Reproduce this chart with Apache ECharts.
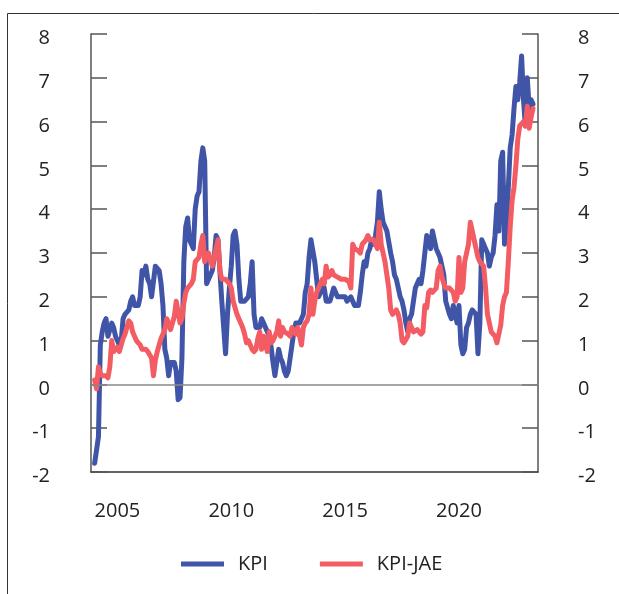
<!DOCTYPE html>
<html><head><meta charset="utf-8">
<script src="https://cdn.jsdelivr.net/npm/echarts@6/dist/echarts.min.js"></script>
<style>html,body{margin:0;padding:0;background:#fff}#c{width:619px;height:594px}</style>
</head><body><div id="c"></div>
<script>
// Monthly 12-month growth, Jan 2004 - Apr 2023
const startYear = 2004;
const kpi = [
  -1.8,-1.8,-1.2,0.9,1.2,1.4,1.5,1.1,1.1,1.4,1.3,1.1,
  1.0,0.9,1.0,1.5,1.6,1.6,1.7,1.9,2.0,1.8,1.8,1.8,
  2.0,2.6,2.5,2.7,2.4,2.3,2.0,2.0,2.7,2.7,2.6,2.3,
  1.8,0.8,0.6,0.2,0.5,0.5,0.5,0.3,-0.35,-0.3,0.6,2.8,
  3.6,3.8,3.3,3.2,3.1,4.0,4.3,4.4,5.1,5.4,5.1,2.3,
  2.4,2.5,2.6,2.9,3.4,3.3,2.6,1.9,1.3,0.7,1.6,2.2,
  2.7,3.4,3.5,3.2,2.4,1.9,1.9,1.9,1.9,2.0,2.3,2.8,
  1.6,1.3,1.3,1.3,1.5,1.4,1.4,1.2,1.1,0.85,0.5,0.2,
  0.5,0.8,0.6,0.5,0.3,0.2,0.3,0.6,0.9,1.2,1.4,1.4,
  1.4,1.5,1.6,2.1,2.3,2.9,3.3,3.3,2.8,2.4,2.0,2.1,
  2.3,2.2,1.9,1.9,1.9,1.9,2.2,2.1,2.0,2.0,2.0,2.0,
  2.0,1.9,1.9,2.0,1.9,1.8,1.8,1.8,2.1,2.5,2.8,2.7,
  3.0,3.1,3.3,3.2,3.4,3.7,4.4,4.0,3.7,3.7,3.5,3.5,
  3.0,2.8,2.5,2.4,2.2,2.0,1.9,1.7,1.4,1.2,1.5,1.6,
  1.6,2.2,2.2,2.4,2.3,2.6,3.0,3.4,3.3,3.1,3.5,3.5,
  3.1,3.0,2.9,2.9,2.5,1.9,1.9,1.6,1.5,1.8,1.6,1.4,
  1.8,0.9,0.7,0.8,1.3,1.4,1.6,1.7,1.7,1.6,0.7,1.4,
  3.3,3.3,3.1,3.0,2.7,2.9,3.0,3.4,4.1,3.5,5.1,5.3,
  3.2,3.7,4.5,5.4,5.7,6.3,6.8,6.5,6.9,7.5,6.5,5.9,
  7.0,6.3,6.5,6.4
];
const kpiJae = [
  0.1,-0.1,0.4,0.25,0.2,0.2,0.2,0.15,0.4,1.0,0.75,0.75,
  0.85,0.75,0.75,1.05,1.15,1.15,1.45,1.4,1.2,1.1,1.0,0.95,
  0.9,0.8,0.8,0.8,0.75,0.75,0.6,0.2,0.55,0.75,0.9,1.05,
  1.15,1.25,1.5,1.4,1.25,1.25,1.55,1.9,1.65,1.4,1.5,1.85,
  2.1,2.2,2.2,2.3,2.4,2.8,2.8,2.9,3.2,3.4,2.8,2.8,
  3.0,3.0,2.7,2.9,3.1,3.3,2.6,2.4,2.4,2.4,2.4,2.3,
  2.2,1.9,1.75,1.6,1.5,1.4,1.3,1.15,0.95,1.0,1.0,0.8,
  0.75,0.8,1.05,1.2,0.8,1.1,1.1,0.75,1.2,0.95,1.0,1.1,
  1.2,1.45,1.1,1.3,1.2,1.2,1.15,1.1,1.3,1.2,1.15,1.3,
  1.1,0.9,1.3,1.4,1.45,1.6,2.2,1.6,1.9,2.1,2.2,2.3,
  2.4,2.3,2.7,2.45,2.5,2.6,2.5,2.5,2.45,2.45,2.4,2.4,
  2.4,2.4,2.35,2.2,3.2,3.1,3.1,3.05,3.0,3.2,3.2,3.3,
  3.4,3.3,3.3,3.3,3.2,3.1,3.7,3.2,3.0,2.8,2.5,2.2,
  1.7,1.6,1.6,1.7,1.6,1.4,1.0,0.95,0.95,1.1,1.4,1.3,
  1.2,1.2,1.25,1.2,1.15,1.2,1.8,1.75,2.1,2.15,2.1,2.1,
  2.2,2.6,2.7,2.45,2.3,2.2,2.2,2.2,2.2,2.1,1.9,2.0,
  2.9,2.1,2.2,2.8,3.0,3.2,3.7,3.5,3.3,3.1,2.9,2.8,
  2.75,2.7,2.2,1.6,1.4,1.2,1.15,1.1,0.95,0.95,1.35,1.8,
  2.0,2.1,2.8,3.6,4.2,4.5,5.0,5.6,5.9,5.9,6.0,5.9,
  6.35,5.85,6.1,6.3
];
const xLabelYears = [2005, 2010, 2015, 2020];
const yMin = -2, yMax = 8, yStep = 1;
const seriesNames = ['KPI', 'KPI-JAE'];
const colors = ['#4055A8', '#F25C62'];

const FONT = '"Open Sans", "Noto Sans", sans-serif';
function toPairs(arr) { return arr.map((v, i) => [startYear + i / 12, v]); }

const chart = echarts.init(document.getElementById('c'), null, {renderer: 'canvas'});
const yAxisBase = (pos, margin) => ({
  type: 'value', position: pos, min: yMin, max: yMax, interval: yStep,
  axisLine: {show: true, lineStyle: {color: '#555', width: 1.5}},
  axisTick: {show: true, inside: true, length: 16, lineStyle: {color: '#555', width: 1.5}},
  axisLabel: {margin: margin, fontSize: 20, color: '#222', fontFamily: FONT,
    verticalAlign: 'top', lineHeight: 9, formatter: v => String(v)},
  splitLine: {show: false}
});
chart.setOption({
  animation: false,
  backgroundColor: '#fff',
  grid: {left: 91, right: 81, top: 34, bottom: 122, containLabel: false},
  graphic: [
    {type: 'line', shape: {x1: 7.5, y1: 13.5, x2: 619, y2: 13.5}, style: {stroke: '#333', lineWidth: 1}},
    {type: 'line', shape: {x1: 7.5, y1: 13.5, x2: 7.5, y2: 594}, style: {stroke: '#333', lineWidth: 1}}
  ],
  legend: {
    data: seriesNames, left: 176, top: 549, icon: 'rect', itemWidth: 43, itemHeight: 5, itemGap: 52,
    textStyle: {fontSize: 20, color: '#222', fontFamily: FONT, padding: [0, 0, 0, 9]}
  },
  xAxis: {
    type: 'value', min: 2003.84, max: 2023.47,
    axisLine: {show: true, onZero: false, lineStyle: {color: '#333', width: 1.5}},
    axisTick: {show: false},
    splitLine: {show: false},
    axisLabel: {customValues: xLabelYears, margin: 29, fontSize: 20, color: '#222', fontFamily: FONT,
      formatter: v => String(v)}
  },
  yAxis: [yAxisBase('left', 41), yAxisBase('right', 40)],
  series: [
    {type: 'line', name: '__zero', data: [], z: 1, silent: true,
     markLine: {silent: true, symbol: 'none', label: {show: false},
       lineStyle: {color: '#888', width: 1.5, type: 'solid'}, data: [{yAxis: 0}]}},
    {type: 'line', name: seriesNames[0], data: toPairs(kpi), showSymbol: false, symbol: 'none', z: 3,
     lineStyle: {width: 5, color: colors[0], cap: 'round', join: 'round'}, itemStyle: {color: colors[0]}},
    {type: 'line', name: seriesNames[1], data: toPairs(kpiJae), showSymbol: false, symbol: 'none', z: 4,
     lineStyle: {width: 5, color: colors[1], cap: 'round', join: 'round'}, itemStyle: {color: colors[1]}}
  ]
});
</script></body></html>
